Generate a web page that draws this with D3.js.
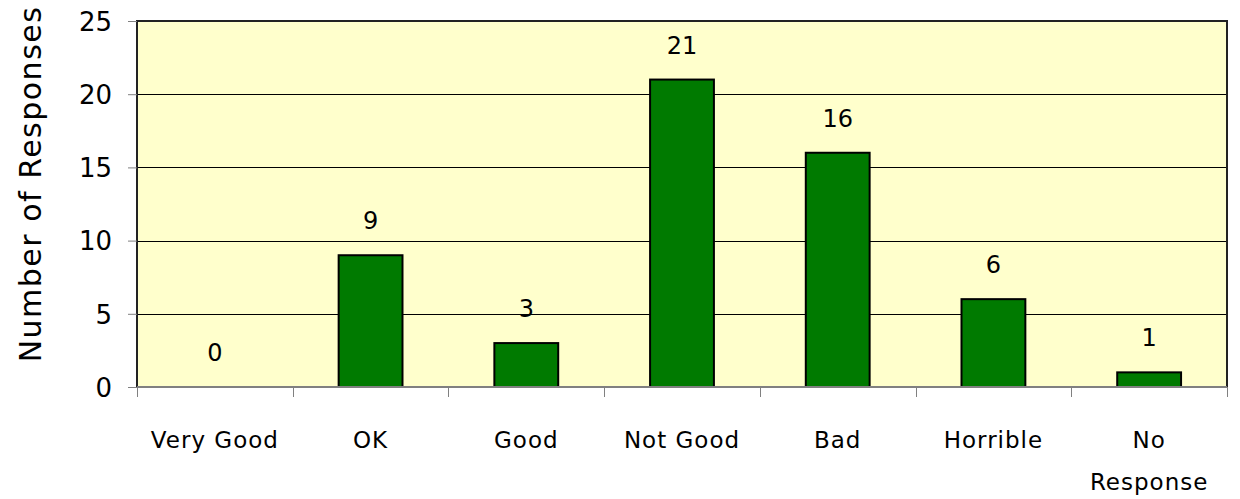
<!DOCTYPE html>
<html>
<head>
<meta charset="utf-8">
<script src="https://cdn.jsdelivr.net/npm/d3@7"></script>
<style>
  html, body { margin: 0; padding: 0; background: #ffffff; }
  svg { display: block; }
  text { font-family: "Comic Sans MS", "DejaVu Sans", sans-serif; fill: #000; }
</style>
</head>
<body>
<svg id="chart" width="1240" height="499"></svg>
<script>
const categories = ["Very Good", "OK", "Good", "Not Good", "Bad", "Horrible", "No Response"];
const responses = [0, 9, 3, 21, 16, 6, 1];
const yTicks = [0, 5, 10, 15, 20, 25];

const width = 1240, height = 499;
const plot = { left: 137, right: 1227, top: 21, bottom: 387 };

const svg = d3.select("#chart");

const x = d3.scaleBand()
  .domain(categories)
  .range([plot.left, plot.right])
  .paddingInner(0.59)
  .paddingOuter(0.295);

const xCat = d3.scaleBand()
  .domain(categories)
  .range([plot.left, plot.right]);

const y = d3.scaleLinear()
  .domain([0, 25])
  .range([plot.bottom, plot.top]);

// plot background
svg.append("rect")
  .attr("x", plot.left).attr("y", plot.top)
  .attr("width", plot.right - plot.left)
  .attr("height", plot.bottom - plot.top)
  .attr("fill", "#ffffcc");

// horizontal gridlines
svg.append("g")
  .selectAll("line")
  .data(yTicks.filter(d => d > 0))
  .join("line")
  .attr("x1", plot.left).attr("x2", plot.right)
  .attr("y1", d => Math.round(y(d)) + 0.5).attr("y2", d => Math.round(y(d)) + 0.5)
  .attr("stroke", "#000").attr("stroke-width", 1);

// plot border (top / right / left)
svg.append("path")
  .attr("d", `M${plot.left},${plot.bottom} V${plot.top} H${plot.right} V${plot.bottom}`)
  .attr("fill", "none").attr("stroke", "#222").attr("stroke-width", 2);

// bars
svg.append("g")
  .selectAll("rect")
  .data(responses.map((v, i) => ({ cat: categories[i], v })))
  .join("rect")
  .attr("x", d => x(d.cat))
  .attr("width", x.bandwidth())
  .attr("y", d => y(d.v))
  .attr("height", d => y(0) - y(d.v))
  .attr("fill", "#007a00")
  .attr("stroke", "#000")
  .attr("stroke-width", 2)
  .attr("display", d => d.v > 0 ? null : "none");

// value labels
svg.append("g")
  .selectAll("text")
  .data(responses.map((v, i) => ({ cat: categories[i], v })))
  .join("text")
  .attr("x", d => xCat(d.cat) + xCat.bandwidth() / 2)
  .attr("y", d => y(d.v) - 26)
  .attr("text-anchor", "middle")
  .attr("font-size", 24)
  .text(d => d.v);

// y axis
const yAxis = d3.axisLeft(y).tickValues(yTicks).tickSize(9).tickPadding(16);
const gy = svg.append("g")
  .attr("transform", `translate(${plot.left},0)`)
  .call(yAxis);
gy.select(".domain").remove();
gy.selectAll(".tick line").attr("stroke", "#808080");
gy.selectAll(".tick text").attr("font-size", 26).attr("dy", "0.36em");

// x axis: category boundary ticks
const bounds = categories.map(c => xCat(c)).concat([plot.right]);
svg.append("line")
  .attr("x1", plot.left).attr("x2", plot.right)
  .attr("y1", plot.bottom).attr("y2", plot.bottom)
  .attr("stroke", "#808080").attr("stroke-width", 2);
svg.append("g")
  .selectAll("line")
  .data(bounds)
  .join("line")
  .attr("x1", d => Math.round(d) + 0.5).attr("x2", d => Math.round(d) + 0.5)
  .attr("y1", plot.bottom).attr("y2", plot.bottom + 10)
  .attr("stroke", "#808080");

// category labels (wrapped into lines)
const catLabels = svg.append("g")
  .selectAll("text")
  .data(categories)
  .join("text")
  .attr("text-anchor", "middle")
  .attr("font-size", 23)
  .attr("letter-spacing", 1)
  .attr("x", d => xCat(d) + xCat.bandwidth() / 2)
  .attr("y", 448);
catLabels.each(function (d) {
  const lines = d === "No Response" ? ["No", "Response"] : [d];
  const t = d3.select(this);
  lines.forEach((ln, i) => {
    t.append("tspan")
      .attr("x", t.attr("x"))
      .attr("dy", i === 0 ? 0 : 42)
      .text(ln);
  });
});

// y axis title
svg.append("text")
  .attr("transform", `translate(41, 184) rotate(-90)`)
  .attr("text-anchor", "middle")
  .attr("font-size", 30)
  .attr("letter-spacing", 1.5)
  .text("Number of Responses");
</script>
</body>
</html>
